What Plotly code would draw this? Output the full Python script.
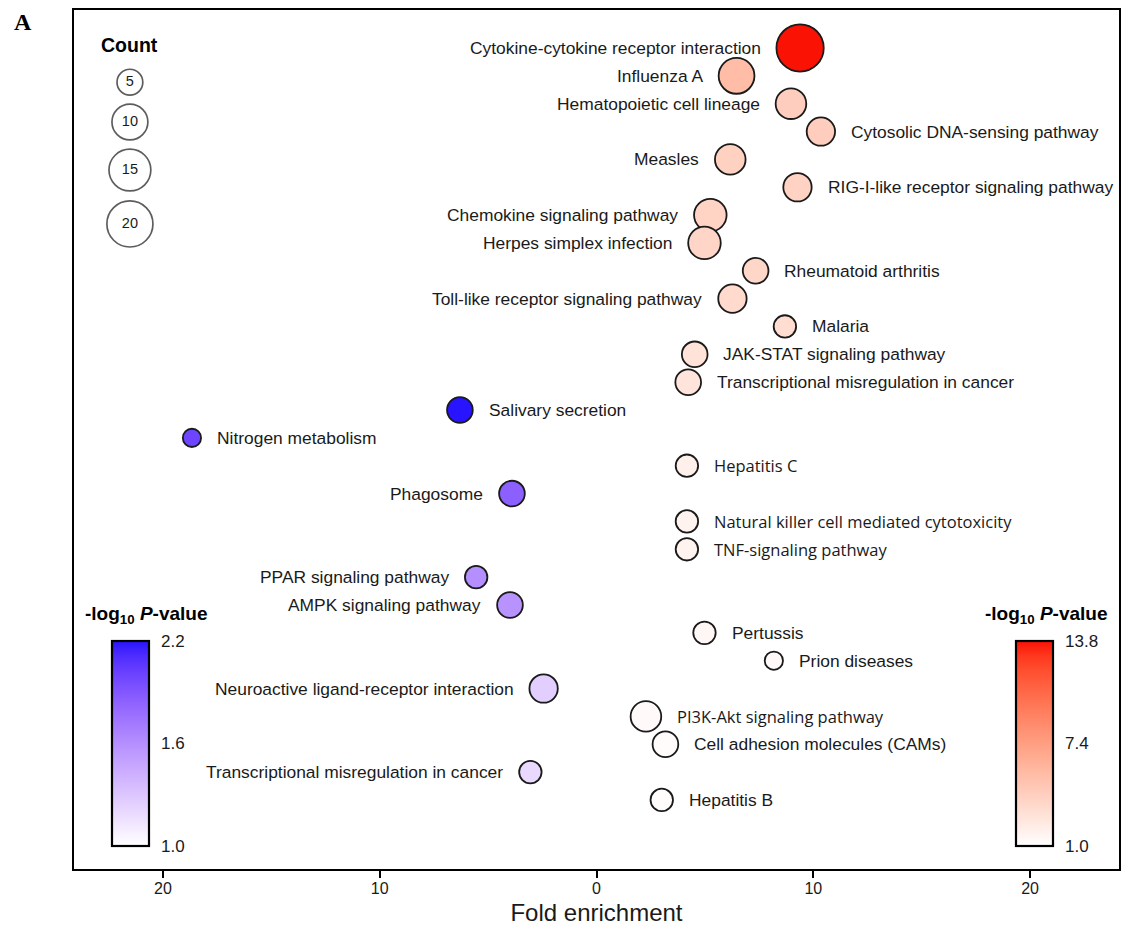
import math
import plotly.graph_objects as go

# KEGG pathways, top to bottom
pathways = [
    "Cytokine-cytokine receptor interaction",
    "Influenza A",
    "Hematopoietic cell lineage",
    "Cytosolic DNA-sensing pathway",
    "Measles",
    "RIG-I-like receptor signaling pathway",
    "Chemokine signaling pathway",
    "Herpes simplex infection",
    "Rheumatoid arthritis",
    "Toll-like receptor signaling pathway",
    "Malaria",
    "JAK-STAT signaling pathway",
    "Transcriptional misregulation in cancer",
    "Salivary secretion",
    "Nitrogen metabolism",
    "Hepatitis C",
    "Phagosome",
    "Natural killer cell mediated cytotoxicity",
    "TNF-signaling pathway",
    "PPAR signaling pathway",
    "AMPK signaling pathway",
    "Pertussis",
    "Prion diseases",
    "Neuroactive ligand-receptor interaction",
    "PI3K-Akt signaling pathway",
    "Cell adhesion molecules (CAMs)",
    "Transcriptional misregulation in cancer",
    "Hepatitis B",
]

# signed fold enrichment: negative = down-regulated set
fold_enrichment = [
    9.39, 6.46, 8.97, 10.35, 6.17, 9.27, 5.25, 4.98, 7.34, 6.27,
    8.69, 4.53, 4.23, -6.30, -18.66, 4.17, -3.90, 4.17, 4.17, -5.55,
    -3.99, 4.98, 8.18, -2.44, 2.28, 3.18, -3.05, 3.01,
]

gene_count = [
    22, 10, 7, 6, 7, 6, 8, 8, 5, 6,
    4, 5, 5, 5, 3, 4, 5, 4, 4, 4,
    5, 4, 3, 6, 7, 5, 4, 4,
]

neg_log10_p = [
    13.8, 5.4, 4.3, 4.3, 4.1, 4.0, 3.9, 3.8, 3.7, 3.5,
    3.3, 2.9, 2.8, 2.2, 2.0, 2.0, 1.85, 1.8, 1.8, 1.6,
    1.58, 1.5, 1.3, 1.25, 1.3, 1.2, 1.2, 1.2,
]

legend_counts = [5, 10, 15, 20]
x_tick_vals = [-20, -10, 0, 10, 20]
x_tick_text = ["20", "10", "0", "10", "20"]
up_cbar_ticks = [1.0, 7.4, 13.8]
down_cbar_ticks = [1.0, 1.6, 2.2]

# which side of the bubble each label sits on
label_side = [
    "L", "L", "L", "R", "L", "R", "L", "L", "R", "L",
    "R", "R", "R", "R", "R", "R", "L", "R", "R", "L",
    "L", "R", "R", "L", "R", "R", "L", "R",
]
alt_font_labels = {"Hepatitis C", "Natural killer cell mediated cytotoxicity",
                   "TNF-signaling pathway", "PI3K-Akt signaling pathway"}

LINE_W = 1.8
ARIAL = "Arial, Liberation Sans, Helvetica, sans-serif"
ALT = "Open Sans, Noto Sans, sans-serif"
TXT = "#1a1a1a"
CLEAR = "rgba(0,0,0,0)"


def bubble_px(n):
    """outer bubble diameter in px for a gene count"""
    return 4.0 + 14.6 * math.log(n)


# ---- Lab colour ramps ----
def _to_lin(c):
    c = c / 255.0
    return c / 12.92 if c <= 0.04045 else ((c + 0.055) / 1.055) ** 2.4


def _to_srgb(v):
    v = max(0.0, min(1.0, v))
    s = 12.92 * v if v <= 0.0031308 else 1.055 * v ** (1 / 2.4) - 0.055
    return int(round(s * 255))


def rgb_to_lab(rgb):
    r, g, b = (_to_lin(c) for c in rgb)
    x = (0.4124 * r + 0.3576 * g + 0.1805 * b) / 0.95047
    y = 0.2126 * r + 0.7152 * g + 0.0722 * b
    z = (0.0193 * r + 0.1192 * g + 0.9505 * b) / 1.08883
    f = lambda t: t ** (1 / 3) if t > 0.008856 else 7.787 * t + 16 / 116
    fx, fy, fz = f(x), f(y), f(z)
    return 116 * fy - 16, 500 * (fx - fy), 200 * (fy - fz)


def lab_to_rgb(lab):
    L, a, b = lab
    fy = (L + 16) / 116
    fx = fy + a / 500
    fz = fy - b / 200
    finv = lambda t: t ** 3 if t ** 3 > 0.008856 else (t - 16 / 116) / 7.787
    x, y, z = 0.95047 * finv(fx), finv(fy), 1.08883 * finv(fz)
    r = 3.2406 * x - 1.5372 * y - 0.4986 * z
    g = -0.9689 * x + 1.8758 * y + 0.0415 * z
    bb = 0.0557 * x - 0.2040 * y + 1.0570 * z
    return _to_srgb(r), _to_srgb(g), _to_srgb(bb)


def lab_scale(c0, c1, n=15):
    l0, l1 = rgb_to_lab(c0), rgb_to_lab(c1)
    out = []
    for i in range(n):
        t = i / (n - 1)
        lab = tuple(p + (q - p) * t for p, q in zip(l0, l1))
        out.append([t, "rgb(%d,%d,%d)" % lab_to_rgb(lab)])
    return out


reds = lab_scale((255, 255, 255), (250, 18, 5))
blues = lab_scale((255, 255, 255), (40, 20, 255))

rows = list(range(1, len(pathways) + 1))
up = [i for i, v in enumerate(fold_enrichment) if v > 0]
down = [i for i, v in enumerate(fold_enrichment) if v < 0]

fig = go.Figure()


def bubble_trace(idx, scale, cmax, ticks, cbar_x):
    return go.Scatter(
        x=[fold_enrichment[i] for i in idx],
        y=[rows[i] for i in idx],
        mode="markers",
        hovertext=[pathways[i] for i in idx],
        marker=dict(
            size=[bubble_px(gene_count[i]) - LINE_W for i in idx],
            sizemode="diameter",
            color=[neg_log10_p[i] for i in idx],
            colorscale=scale,
            cmin=1.0,
            cmax=cmax,
            opacity=1,
            line=dict(color=TXT, width=LINE_W),
            colorbar=dict(
                x=cbar_x, xanchor="left", xpad=0,
                y=0.1461, yanchor="middle", ypad=0,
                len=205, lenmode="pixels",
                thickness=37, thicknessmode="pixels",
                outlinewidth=2.2, outlinecolor="black",
                tickvals=ticks, ticktext=["%.1f" % t for t in ticks],
                ticks="outside", ticklen=8, tickcolor=CLEAR,
                tickfont=dict(family=ARIAL, size=17, color=TXT),
            ),
        ),
        showlegend=False,
    )


fig.add_trace(bubble_trace(up, reds, 13.8, up_cbar_ticks, 0.901))
fig.add_trace(bubble_trace(down, blues, 2.2, down_cbar_ticks, 0.0363))

# pathway labels beside each bubble
for i, name in enumerate(pathways):
    r = bubble_px(gene_count[i]) / 2
    left = label_side[i] == "L"
    alt = name in alt_font_labels
    fig.add_annotation(
        x=fold_enrichment[i], y=rows[i], xref="x", yref="y",
        text=name, showarrow=False,
        xanchor="right" if left else "left", yanchor="middle",
        xshift=-(r + 13) if left else (r + 13),
        font=dict(family=ALT if alt else ARIAL, size=16.5 if alt else 17.4, color=TXT),
    )

# bubble-size key on an overlay axis
key_y = [0.916, 0.8696, 0.8137, 0.7509]
fig.add_trace(go.Scatter(
    x=[0.0535] * len(legend_counts), y=key_y, xaxis="x2", yaxis="y2",
    mode="markers+text",
    text=[str(c) for c in legend_counts], textposition="middle center",
    textfont=dict(family=ARIAL, size=14.5, color=TXT),
    marker=dict(size=[bubble_px(c) - 1.7 for c in legend_counts], color="white",
                line=dict(color=TXT, width=1.7)),
    showlegend=False, hoverinfo="skip",
))

fig.add_annotation(x=0.0535, y=0.9593, xref="paper", yref="paper", showarrow=False,
                   xanchor="center", yanchor="middle",
                   text="<b>Count</b>", font=dict(family=ARIAL, size=19.5, color="black"))
cbar_title = "<b>-log<sub>10</sub> <i>P</i>-value</b>"
fig.add_annotation(x=0.069, y=0.2957, xref="paper", yref="paper", showarrow=False,
                   xanchor="center", yanchor="middle",
                   text=cbar_title, font=dict(family=ARIAL, size=19, color="black"))
fig.add_annotation(x=0.9303, y=0.2957, xref="paper", yref="paper", showarrow=False,
                   xanchor="center", yanchor="middle",
                   text=cbar_title, font=dict(family=ARIAL, size=19, color="black"))
fig.add_annotation(x=-0.0592, y=0.986, xref="paper", yref="paper", showarrow=False,
                   xanchor="left", yanchor="middle", text="<b>A</b>",
                   font=dict(family="Liberation Serif, Times New Roman, serif", size=24, color="black"))

fig.update_layout(
    width=1124, height=934,
    margin=dict(l=74, r=3, t=10, b=65),
    paper_bgcolor="white", plot_bgcolor="white",
    xaxis=dict(
        range=[-24.1, 24.1], tickvals=x_tick_vals, ticktext=x_tick_text,
        ticks="outside", ticklen=7, tickwidth=2, tickcolor="black",
        ticklabelstandoff=-3,
        showline=True, mirror=True, linewidth=2, linecolor="black",
        showgrid=False, zeroline=False,
        tickfont=dict(family=ARIAL, size=16, color=TXT),
        title=dict(text="Fold enrichment", font=dict(family=ARIAL, size=24, color=TXT), standoff=8),
    ),
    yaxis=dict(
        range=[30.48, -0.364], showticklabels=False, ticks="",
        showline=True, mirror=True, linewidth=2, linecolor="black",
        showgrid=False, zeroline=False,
    ),
    xaxis2=dict(domain=[0, 1], range=[0, 1], overlaying="x", anchor="y2", visible=False),
    yaxis2=dict(domain=[0, 1], range=[0, 1], overlaying="y", anchor="x2", visible=False),
)

fig.write_html("out.html")
